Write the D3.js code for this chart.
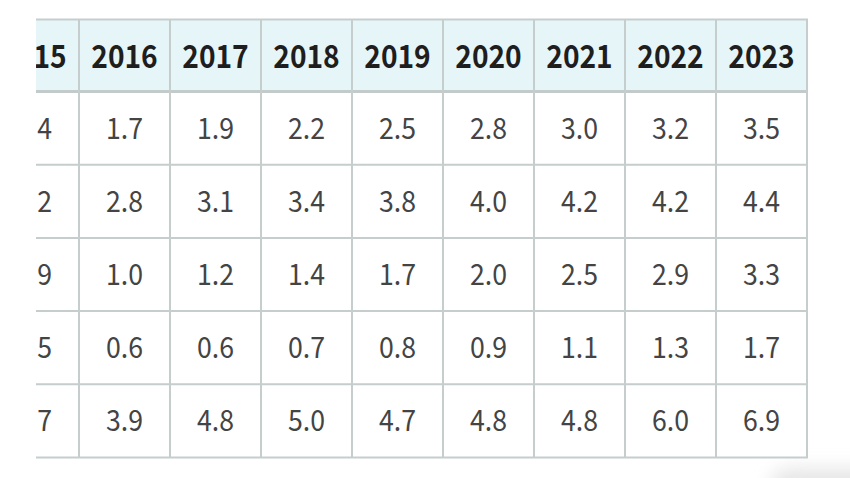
<!DOCTYPE html>
<html><head><meta charset="utf-8">
<script src="https://cdn.jsdelivr.net/npm/d3@7"></script>
<style>
html,body{margin:0;padding:0;background:#fff;}
svg{display:block;}
</style></head>
<body><div id="chart"></div>
<script>
const years = ["2015","2016","2017","2018","2019","2020","2021","2022","2023"];
const row1 = [1.4,1.7,1.9,2.2,2.5,2.8,3.0,3.2,3.5];
const row2 = [2.2,2.8,3.1,3.4,3.8,4.0,4.2,4.2,4.4];
const row3 = [0.9,1.0,1.2,1.4,1.7,2.0,2.5,2.9,3.3];
const row4 = [0.5,0.6,0.6,0.7,0.8,0.9,1.1,1.3,1.7];
const row5 = [3.7,3.9,4.8,5.0,4.7,4.8,4.8,6.0,6.9];
const rows = [row1,row2,row3,row4,row5];

const W = 850, H = 478;
const svg = d3.select("#chart").append("svg").attr("width", W).attr("height", H);
const defs = svg.append("defs");
defs.append("clipPath").attr("id","clip").append("rect")
  .attr("x",36).attr("y",0).attr("width",W-36).attr("height",H);
const blur = defs.append("filter").attr("id","blur").attr("x","-50%").attr("y","-50%").attr("width","200%").attr("height","200%");
blur.append("feGaussianBlur").attr("stdDeviation",9);

// faint floating shadow bottom-right
svg.append("rect").attr("x",770).attr("y",468).attr("width",120).attr("height",40)
  .attr("rx",20).attr("fill","#dcdcdc").attr("filter","url(#blur)").attr("opacity",0.7);

const x = d3.scaleBand().domain(years).range([-12, 807]);
const headTop = 19.5, headBottom = 91.5;
const y = d3.scaleBand().domain(d3.range(rows.length)).range([headBottom, 457.5]);

const g = svg.append("g").attr("clip-path","url(#clip)");
const fmt = d3.format(".1f");
const lineCol = "#c5cdcd";

g.append("rect").attr("x",x.range()[0]).attr("y",headTop)
  .attr("width",x.range()[1]-x.range()[0]).attr("height",headBottom-headTop)
  .attr("fill","#e6f6f8");
g.append("rect").attr("x",x.range()[0]).attr("y",headBottom)
  .attr("width",x.range()[1]-x.range()[0]).attr("height",y.range()[1]-headBottom)
  .attr("fill","#fff");

const hl = [headTop, ...rows.map((d,i)=>y(i)+y.bandwidth()).slice(0,-1), y.range()[1]];
g.selectAll("line.h").data(hl).join("line").attr("class","h")
  .attr("x1",x.range()[0]).attr("x2",x.range()[1]+1)
  .attr("y1",d=>d).attr("y2",d=>d)
  .attr("stroke",lineCol).attr("stroke-width",2);
g.append("line").attr("x1",x.range()[0]).attr("x2",x.range()[1]+1)
  .attr("y1",headBottom).attr("y2",headBottom)
  .attr("stroke","#c2caca").attr("stroke-width",3);
g.selectAll("line.v").data(years.slice(1).concat(["end"])).join("line").attr("class","v")
  .attr("x1",d=>d==="end"?x.range()[1]:x(d)).attr("x2",d=>d==="end"?x.range()[1]:x(d))
  .attr("y1",headTop).attr("y2",y.range()[1])
  .attr("stroke",lineCol).attr("stroke-width",2);

g.selectAll("text.hd").data(years).join("text").attr("class","hd")
  .attr("transform",d=>`translate(${x(d)+x.bandwidth()/2},${(headTop+headBottom)/2 - 1.5}) scale(0.88,1)`)
  .attr("text-anchor","middle").attr("dominant-baseline","central")
  .attr("font-family","'Noto Sans CJK KR','Noto Sans',sans-serif")
  .attr("font-weight",700).attr("font-size",32).attr("fill","#1e1e1e")
  .text(d=>d);

rows.forEach((r,i)=>{
  g.selectAll("text.r"+i).data(r).join("text").attr("class","r"+i)
    .attr("transform",(d,j)=>`translate(${x(years[j])+x.bandwidth()/2},${y(i)+y.bandwidth()/2 - 2}) scale(0.92,1)`)
    .attr("text-anchor","middle").attr("dominant-baseline","central")
    .attr("font-family","'Noto Sans CJK KR','Noto Sans',sans-serif")
    .attr("font-weight",400).attr("font-size",29).attr("fill","#444")
    .text(d=>fmt(d));
});
</script>
</body></html>
